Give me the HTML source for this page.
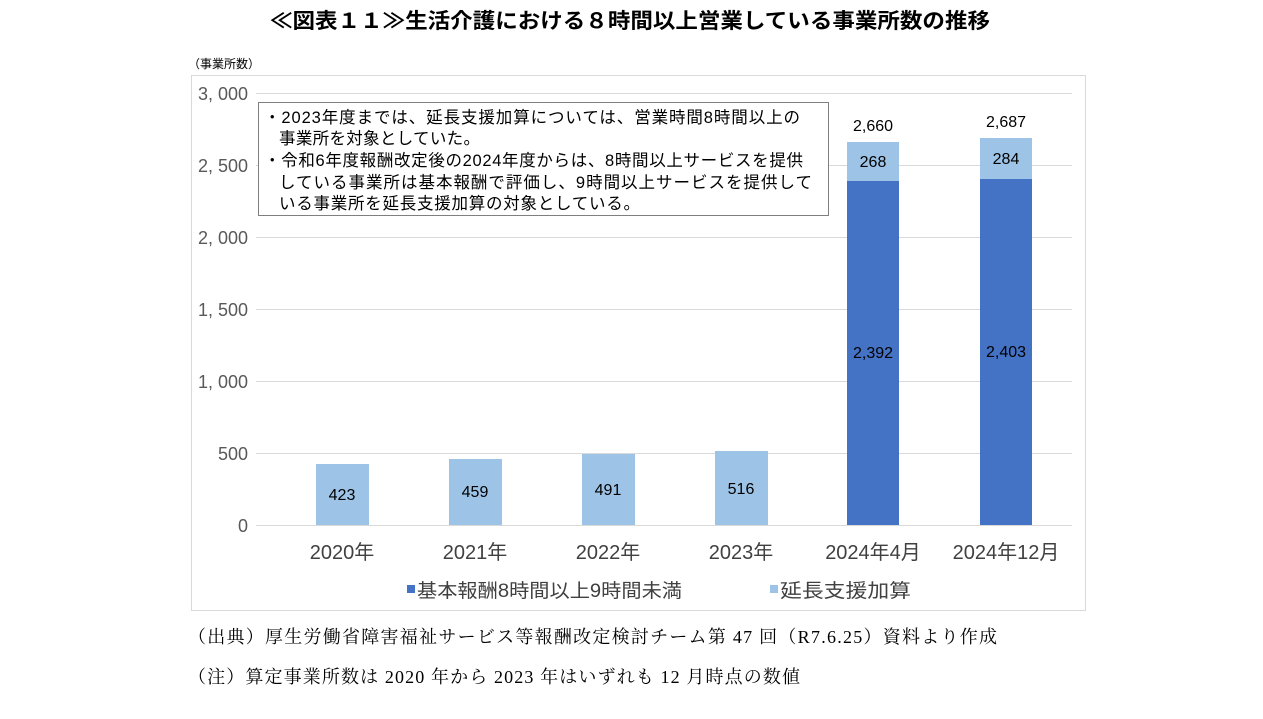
<!DOCTYPE html>
<html><head><meta charset="utf-8"><style>
html,body{margin:0;padding:0;background:#fff;}
svg{display:block;}
</style></head><body>
<svg width="1263" height="719" xmlns="http://www.w3.org/2000/svg" font-family="'Liberation Sans','Noto Sans CJK JP',sans-serif">
<text x="270" y="28" font-size="21" font-weight="bold" fill="#000" textLength="720" lengthAdjust="spacingAndGlyphs">≪図表１１≫生活介護における８時間以上営業している事業所数の推移</text>
<text x="188" y="68" font-size="12" fill="#000">（事業所数）</text>
<rect x="191.5" y="75.5" width="894" height="535" fill="#fff" stroke="#d9d9d9" stroke-width="1"/>
<g stroke="#d9d9d9" stroke-width="1">
<line x1="256" y1="93.5" x2="1072" y2="93.5"/>
<line x1="256" y1="165.5" x2="1072" y2="165.5"/>
<line x1="256" y1="237.5" x2="1072" y2="237.5"/>
<line x1="256" y1="309.5" x2="1072" y2="309.5"/>
<line x1="256" y1="381.5" x2="1072" y2="381.5"/>
<line x1="256" y1="453.5" x2="1072" y2="453.5"/>
<line x1="256" y1="525.5" x2="1072" y2="525.5"/>
</g>
<g font-size="18" fill="#595959" text-anchor="end">
<text x="248" y="100">3, 000</text>
<text x="248" y="172">2, 500</text>
<text x="248" y="244">2, 000</text>
<text x="248" y="316">1, 500</text>
<text x="248" y="388">1, 000</text>
<text x="248" y="460">500</text>
<text x="248" y="532">0</text>
</g>
<g fill="#9dc3e6">
<rect x="316" y="464" width="53" height="61"/>
<rect x="449" y="459" width="53" height="66"/>
<rect x="582" y="454" width="53" height="71"/>
<rect x="715" y="451" width="53" height="74"/>
<rect x="847" y="142" width="52" height="39"/>
<rect x="980" y="138" width="52" height="41"/>
</g>
<g fill="#4472c4">
<rect x="847" y="181" width="52" height="344"/>
<rect x="980" y="179" width="52" height="346"/>
</g>
<g font-size="16" fill="#000" text-anchor="middle">
<text x="342" y="500">423</text>
<text x="475" y="497">459</text>
<text x="608" y="495">491</text>
<text x="741" y="494">516</text>
<text x="873" y="167">268</text>
<text x="1006" y="164">284</text>
<text x="873" y="358">2,392</text>
<text x="1006" y="357">2,403</text>
<text x="873" y="131">2,660</text>
<text x="1006" y="127">2,687</text>
</g>
<rect x="258.5" y="102.5" width="570" height="113" fill="#fff" stroke="#7f7f7f" stroke-width="1"/>
<g font-size="16.5" fill="#000" lengthAdjust="spacingAndGlyphs">
<text x="264" y="123" textLength="536">・2023年度までは、延長支援加算については、営業時間8時間以上の</text>
<text x="279" y="144" textLength="201">事業所を対象としていた。</text>
<text x="264" y="166" textLength="539">・令和6年度報酬改定後の2024年度からは、8時間以上サービスを提供</text>
<text x="279" y="188" textLength="533">している事業所は基本報酬で評価し、9時間以上サービスを提供して</text>
<text x="279" y="209" textLength="361">いる事業所を延長支援加算の対象としている。</text>
</g>
<g font-size="20" fill="#404040" text-anchor="middle">
<text x="342" y="559">2020年</text>
<text x="475" y="559">2021年</text>
<text x="608" y="559">2022年</text>
<text x="741" y="559">2023年</text>
<text x="873" y="559">2024年4月</text>
<text x="1006" y="559">2024年12月</text>
</g>
<rect x="407" y="585" width="8" height="8" fill="#4472c4"/>
<text x="417" y="597" font-size="19" fill="#404040" textLength="265" lengthAdjust="spacingAndGlyphs">基本報酬8時間以上9時間未満</text>
<rect x="770" y="585" width="8" height="8" fill="#9dc3e6"/>
<text x="780" y="597" font-size="19" fill="#404040" textLength="131" lengthAdjust="spacingAndGlyphs">延長支援加算</text>
<g font-family="'Liberation Serif','Noto Serif CJK SC',serif" font-size="18" fill="#000" lengthAdjust="spacingAndGlyphs">
<text x="188" y="643" textLength="809">（出典）厚生労働省障害福祉サービス等報酬改定検討チーム第 47 回（R7.6.25）資料より作成</text>
<text x="188" y="683" textLength="612">（注）算定事業所数は 2020 年から 2023 年はいずれも 12 月時点の数値</text>
</g>
</svg>
</body></html>
